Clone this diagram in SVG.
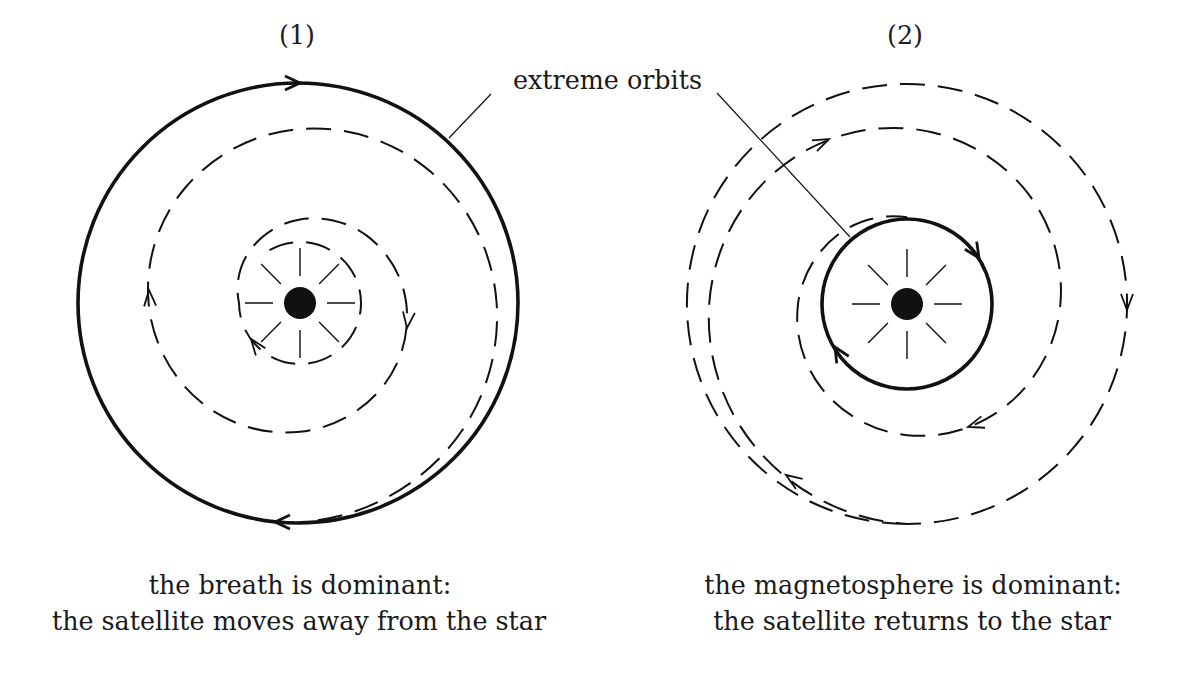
<svg xmlns="http://www.w3.org/2000/svg" xmlns:xlink="http://www.w3.org/1999/xlink" width="1200" height="681" viewBox="0 0 1200 681">
<style>
text{font-family:"DejaVu Serif","Liberation Serif",serif;font-size:25.4px;fill:#1a1a1a}
.solid{fill:none;stroke:#111;stroke-width:3.6}
.dash{fill:none;stroke:#111;stroke-width:2;stroke-dasharray:25 13}
.ray{stroke:#111;stroke-width:1.4}
.lead{stroke:#111;stroke-width:1.2;fill:none}
.ah{fill:none;stroke:#111;stroke-width:1.8;stroke-linejoin:miter}
.ahs{fill:none;stroke:#111;stroke-width:2.8}
</style>
<defs>
<path id="ah" class="ah" d="M-16,-6 L0,0 L-16,6"/>
<path id="ahs" class="ahs" d="M-15,-7 L0,0 L-15,7"/>
<g id="star">
<circle r="16" fill="#111"/>
<path class="ray" d="M27,0H55M-27,0H-55M0,27V55M0,-27V-55M19.1,19.1L38.9,38.9M-19.1,19.1L-38.9,38.9M-19.1,-19.1L-38.9,-38.9M19.1,-19.1L38.9,-38.9"/>
</g>
</defs>
<rect width="1200" height="681" fill="#fff"/>

<g id="panel1">
<text x="297" y="44" text-anchor="middle">(1)</text>
<g id="star1"><use xlink:href="#star" href="#star" transform="translate(300,303)"/></g>
<g id="orbit1-solid">
<circle class="solid" cx="298" cy="303" r="220"/>
<use href="#ahs" xlink:href="#ahs" transform="translate(300,83)"/>
<use href="#ahs" xlink:href="#ahs" transform="translate(275,522) rotate(180)"/>
</g>
<g id="orbit1-spiral">
<path class="dash" d="M269.5,250.2 A61,61 0 1 1 239,303 A66.6,66.6 0 0 1 248.9,251.9 A78,78 0 0 1 300,219.4 A89.2,89.2 0 0 1 367.1,235.9 A100.5,100.5 0 0 1 406.2,303 A111.8,111.8 0 0 1 383.1,386.1 A123.1,123.1 0 0 1 300,431.8 A134.4,134.4 0 0 1 200.9,402.1 A145.7,145.7 0 0 1 148.6,303 A157,157 0 0 1 185,188 A168.3,168.3 0 0 1 300,129 A179.6,179.6 0 0 1 431,172 A191,191 0 0 1 496.6,303 A202.2,202.2 0 0 1 447,450 A213.5,213.5 0 0 1 300,522.2"/>
<use href="#ah" xlink:href="#ah" transform="translate(251,339) rotate(233)"/>
<use href="#ah" xlink:href="#ah" transform="translate(407,328) rotate(97)"/>
<use href="#ah" xlink:href="#ah" transform="translate(149,290) rotate(266)"/>
</g>
<text x="300" y="594" text-anchor="middle">the breath is dominant:</text>
<text x="299" y="630" text-anchor="middle">the satellite moves away from the star</text>
</g>

<g id="panel2">
<text x="905" y="44" text-anchor="middle">(2)</text>
<g id="star2"><use xlink:href="#star" href="#star" transform="translate(907,304)"/></g>
<g id="orbit2-solid">
<circle class="solid" cx="907" cy="304" r="85"/>
<use href="#ahs" xlink:href="#ahs" transform="translate(979,258) rotate(57)"/>
<use href="#ahs" xlink:href="#ahs" transform="translate(835,347) rotate(239)"/>
</g>
<g id="orbit2-spiral">
<path class="dash" d="M907,524 A220,220 0 1 1 907,84 A220,220 0 1 1 907,524 A214.5,214.5 0 0 1 759.3,451.7 A203.4,203.4 0 0 1 709.2,304 A192.3,192.3 0 0 1 775,172 A181.2,181.2 0 0 1 907,128.4 A170,170 0 0 1 1023.3,187.7 A159,159 0 0 1 1060.4,304 A147.9,147.9 0 0 1 1007.6,404.6 A136.8,136.8 0 0 1 907,435.2 A125.7,125.7 0 0 1 822.1,388.9 A114.6,114.6 0 0 1 798,304 A103.5,103.5 0 0 1 837.8,234.8 A92.4,92.4 0 0 1 907,217.2"/>
<use href="#ah" xlink:href="#ah" transform="translate(1127,310) rotate(90)"/>
<use href="#ah" xlink:href="#ah" transform="translate(968,427) rotate(162)"/>
<use href="#ah" xlink:href="#ah" transform="translate(829,139) rotate(-25)"/>
<use href="#ah" xlink:href="#ah" transform="translate(786,475) rotate(214)"/>
</g>
<text x="913" y="594" text-anchor="middle">the magnetosphere is dominant:</text>
<text x="912" y="630" text-anchor="middle">the satellite returns to the star</text>
</g>

<g id="label-extreme">
<text x="513" y="89">extreme orbits</text>
</g>
<g id="connectors">
<line class="lead" x1="491" y1="94" x2="449" y2="138"/>
<line class="lead" x1="717" y1="93" x2="850" y2="237"/>
</g>
</svg>
